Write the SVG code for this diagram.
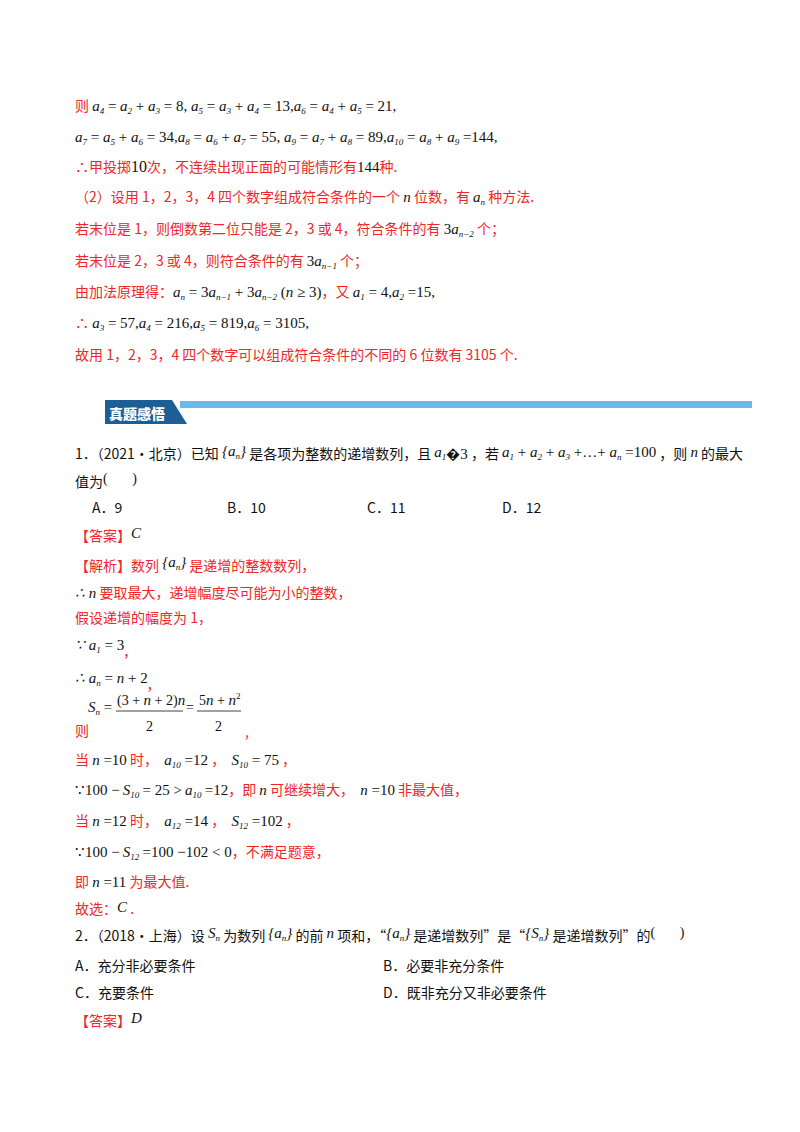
<svg xmlns="http://www.w3.org/2000/svg" width="800" height="1132" viewBox="0 0 800 1132">
<style>
text{font-size:14px;white-space:pre}
.r{fill:#f0262a;font-family:"Noto Sans CJK SC","Liberation Sans",sans-serif}
.k{fill:#111;font-family:"Noto Sans CJK SC","Liberation Serif",serif}
.m{fill:#111;font-family:"Liberation Serif",serif;font-style:italic;font-size:15px}
.n{fill:#111;font-family:"Liberation Serif",serif;font-style:normal}
.s{font-size:9px;baseline-shift:-3px}
.p{font-size:9px;baseline-shift:6px}
</style>
<rect width="800" height="1132" fill="#fff"/>
<g id="part1">
<text x="75" y="111"><tspan class="r">则 </tspan><tspan class="m">a<tspan class="s">4</tspan> <tspan class="n">=</tspan> a<tspan class="s">2</tspan> <tspan class="n">+</tspan> a<tspan class="s">3</tspan> <tspan class="n">= 8,</tspan> a<tspan class="s">5</tspan> <tspan class="n">=</tspan> a<tspan class="s">3</tspan> <tspan class="n">+</tspan> a<tspan class="s">4</tspan> <tspan class="n">= 13,</tspan>a<tspan class="s">6</tspan> <tspan class="n">=</tspan> a<tspan class="s">4</tspan> <tspan class="n">+</tspan> a<tspan class="s">5</tspan> <tspan class="n">= 21,</tspan></tspan></text>
<text x="75" y="142" class="m">a<tspan class="s">7</tspan> <tspan class="n">=</tspan> a<tspan class="s">5</tspan> <tspan class="n">+</tspan> a<tspan class="s">6</tspan> <tspan class="n">= 34,</tspan>a<tspan class="s">8</tspan> <tspan class="n">=</tspan> a<tspan class="s">6</tspan> <tspan class="n">+</tspan> a<tspan class="s">7</tspan> <tspan class="n">= 55,</tspan> a<tspan class="s">9</tspan> <tspan class="n">=</tspan> a<tspan class="s">7</tspan> <tspan class="n">+</tspan> a<tspan class="s">8</tspan> <tspan class="n">= 89,</tspan>a<tspan class="s">10</tspan> <tspan class="n">=</tspan> a<tspan class="s">8</tspan> <tspan class="n">+</tspan> a<tspan class="s">9</tspan> <tspan class="n">=144,</tspan></text>
<text x="75" y="172" class="r">∴甲投掷<tspan class="n" font-size="16">10</tspan>次，不连续出现正面的可能情形有<tspan class="n" font-size="15">144</tspan>种.</text>
<text x="75" y="202" class="r">（2）设用 1，2，3，4 四个数字组成符合条件的一个 <tspan class="m">n</tspan> 位数，有 <tspan class="m" font-size="13">a<tspan class="s">n</tspan></tspan> 种方法.</text>
<text x="75" y="234" class="r">若末位是 1，则倒数第二位只能是 2，3 或 4，符合条件的有 <tspan class="m"><tspan class="n">3</tspan>a<tspan class="s">n−2</tspan></tspan> 个；</text>
<text x="75" y="266" class="r">若末位是 2，3 或 4，则符合条件的有 <tspan class="m" font-size="11"><tspan class="n">3</tspan>a<tspan class="s">n−1</tspan></tspan> 个；</text>
<text x="75" y="297" class="r">由加法原理得：<tspan class="m">a<tspan class="s">n</tspan> <tspan class="n">= 3</tspan>a<tspan class="s">n−1</tspan> <tspan class="n">+ 3</tspan>a<tspan class="s">n−2</tspan> <tspan class="n">(</tspan>n <tspan class="n">≥ 3)</tspan></tspan>，又 <tspan class="m">a<tspan class="s">1</tspan> <tspan class="n">= 4,</tspan>a<tspan class="s">2</tspan> <tspan class="n">=15,</tspan></tspan></text>
<text x="75" y="328" class="r">∴ <tspan class="m">a<tspan class="s">3</tspan> <tspan class="n">= 57,</tspan>a<tspan class="s">4</tspan> <tspan class="n">= 216,</tspan>a<tspan class="s">5</tspan> <tspan class="n">= 819,</tspan>a<tspan class="s">6</tspan> <tspan class="n">= 3105,</tspan></tspan></text>
<text x="75" y="360" class="r">故用 1，2，3，4 四个数字可以组成符合条件的不同的 6 位数有 3105 个.</text>
</g>
<g id="banner">
<rect x="180" y="401" width="572" height="7" fill="#6cb8e6"/>
<polygon points="105,400 172,400 187,424 105,424" fill="#1b5f96"/>
<text x="109" y="419" font-family="Noto Sans CJK SC,sans-serif" font-weight="900" font-size="17" fill="#fff">真题感悟</text>
</g>
<g id="q1">
<text x="75" y="459" class="k">1．（2021•北京）已知 <tspan class="m" font-size="13" baseline-shift="3">{a<tspan class="s">n</tspan>}</tspan> 是各项为整数的递增数列，且 <tspan class="m" font-size="14" baseline-shift="2">a<tspan class="s">1</tspan></tspan>�<tspan class="n" font-size="15">3</tspan> ，若 <tspan class="m" font-size="14" baseline-shift="2">a<tspan class="s">1</tspan> <tspan class="n">+</tspan> a<tspan class="s">2</tspan> <tspan class="n">+</tspan> a<tspan class="s">3</tspan> <tspan class="n">+…+</tspan> a<tspan class="s">n</tspan> <tspan class="n">=100</tspan></tspan> ，则 <tspan class="m" baseline-shift="2">n</tspan> 的最大</text>
<text x="75" y="487" class="k">值为<tspan class="n" font-size="14" baseline-shift="4">(       )</tspan></text>
<text x="92" y="513" class="k">A．9</text>
<text x="227" y="513" class="k">B．10</text>
<text x="367" y="513" class="k">C．11</text>
<text x="502" y="513" class="k">D．12</text>
<text x="75" y="541" class="r">【答案】<tspan class="m" font-size="16" baseline-shift="3">C</tspan></text>
<text x="75" y="571" class="r">【解析】数列 <tspan class="m" font-size="13" baseline-shift="4">{a<tspan class="s">n</tspan>}</tspan> 是递增的整数数列，</text>
<text x="75" y="598" class="r"><tspan class="m">∴ n</tspan> 要取最大，递增幅度尽可能为小的整数，</text>
<text x="75" y="623" class="r">假设递增的幅度为 1，</text>
<text x="75" y="650" class="m">∵ a<tspan class="s">1</tspan> <tspan class="n">= 3</tspan><tspan class="r" font-style="normal" dy="6">,</tspan></text>
<text x="75" y="683" class="m">∴ a<tspan class="s">n</tspan> <tspan class="n">=</tspan> n <tspan class="n">+ 2</tspan><tspan class="r" font-style="normal" dy="6">,</tspan></text>
<text x="88" y="712" class="m">S<tspan class="s">n</tspan> <tspan class="n">=</tspan></text>
<text x="117" y="705" class="n" font-size="15">(3 + <tspan class="m">n</tspan> + 2)<tspan class="m">n</tspan></text>
<line x1="116" y1="711" x2="183" y2="711" stroke="#111" stroke-width="0.8"/>
<text x="146" y="731" class="n" font-size="15">2</text>
<text x="186" y="712" class="n" font-size="15">=</text>
<text x="199" y="705" class="n" font-size="15">5<tspan class="m">n</tspan> + <tspan class="m">n</tspan><tspan class="p">2</tspan></text>
<line x1="197" y1="711" x2="241" y2="711" stroke="#111" stroke-width="0.8"/>
<text x="215" y="731" class="n" font-size="15">2</text>
<text x="75" y="736" class="r">则</text>
<text x="245" y="737" class="r">,</text>
<text x="75" y="765" class="r">当 <tspan class="m">n <tspan class="n">=10</tspan></tspan> 时，  <tspan class="m">a<tspan class="s">10</tspan> <tspan class="n">=12</tspan></tspan> ，  <tspan class="m">S<tspan class="s">10</tspan> <tspan class="n">= 75</tspan></tspan> ，</text>
<text x="75" y="795" class="k"><tspan class="n" font-size="15">∵100 −</tspan> <tspan class="m">S<tspan class="s">10</tspan></tspan> <tspan class="n" font-size="15">= 25 &gt;</tspan> <tspan class="m">a<tspan class="s">10</tspan></tspan> <tspan class="n" font-size="15">=12</tspan><tspan class="r">，即 <tspan class="m">n</tspan> 可继续增大，  <tspan class="m">n <tspan class="n">=10</tspan></tspan> 非最大值，</tspan></text>
<text x="75" y="826" class="r">当 <tspan class="m">n <tspan class="n">=12</tspan></tspan> 时，  <tspan class="m">a<tspan class="s">12</tspan> <tspan class="n">=14</tspan></tspan> ，  <tspan class="m">S<tspan class="s">12</tspan> <tspan class="n">=102</tspan></tspan> ，</text>
<text x="75" y="857" class="k"><tspan class="n" font-size="15">∵100 −</tspan> <tspan class="m">S<tspan class="s">12</tspan></tspan> <tspan class="n" font-size="15">=100 −102 &lt; 0</tspan><tspan class="r">，不满足题意，</tspan></text>
<text x="75" y="887" class="r">即 <tspan class="m">n <tspan class="n">=11</tspan></tspan> 为最大值.</text>
<text x="75" y="914" class="r">故选：<tspan class="m" font-size="16" baseline-shift="2">C</tspan> .</text>
</g>
<g id="q2">
<text x="75" y="941" class="k">2．（2018•上海）设 <tspan class="m" font-size="13" baseline-shift="3">S<tspan class="s">n</tspan></tspan> 为数列 <tspan class="m" font-size="12" baseline-shift="3">{a<tspan class="s">n</tspan>}</tspan> 的前 <tspan class="m" font-size="13" baseline-shift="3">n</tspan> 项和，“<tspan class="m" font-size="12" baseline-shift="3">{a<tspan class="s">n</tspan>}</tspan> 是递增数列”是“<tspan class="m" font-size="12" baseline-shift="3">{S<tspan class="s">n</tspan>}</tspan> 是递增数列”的<tspan class="n" font-size="14" baseline-shift="4">(       )</tspan></text>
<text x="75" y="971" class="k">A．充分非必要条件</text>
<text x="383" y="971" class="k">B．必要非充分条件</text>
<text x="75" y="998" class="k">C．充要条件</text>
<text x="383" y="998" class="k">D．既非充分又非必要条件</text>
<text x="75" y="1026" class="r">【答案】<tspan class="m" font-size="16" baseline-shift="3">D</tspan></text>
</g>
</svg>
